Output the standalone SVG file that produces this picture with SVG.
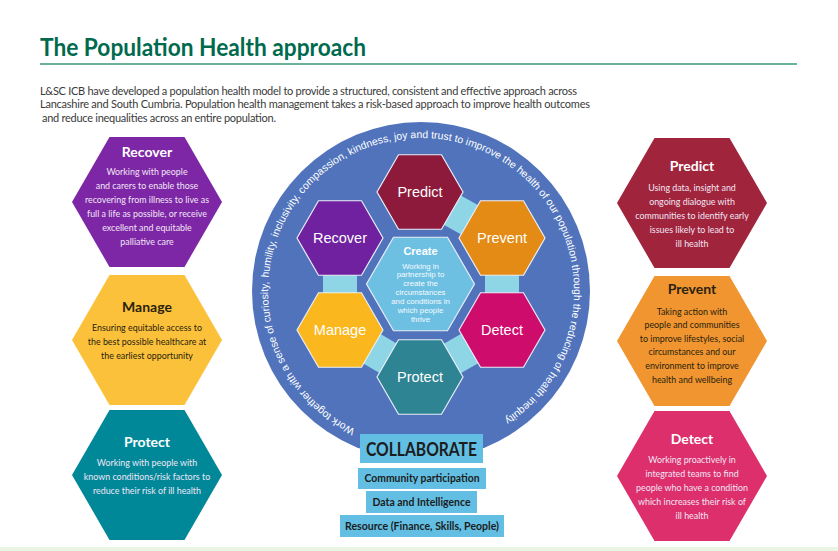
<svg xmlns="http://www.w3.org/2000/svg" width="838" height="551" viewBox="0 0 838 551">
<style>
.title{font-family:Lato,"Open Sans","Liberation Sans",sans-serif;font-weight:bold;font-size:24px;fill:#006a4e}
.para{font-family:Lato,"Open Sans","Liberation Sans",sans-serif;font-size:11px;fill:#3a3a3a}
.stitle{font-family:Lato,"Open Sans","Liberation Sans",sans-serif;font-weight:bold;font-size:14px;text-anchor:middle}
.sbody{font-family:Lato,"Open Sans","Liberation Sans",sans-serif;font-size:8.9px;text-anchor:middle}
.light{fill:#ffffff}
.lightb{fill:#f1e6f5}
.dark{fill:#2a2210}
.hexlbl{font-family:"Liberation Sans",Arial,sans-serif;font-size:14.5px;fill:#ffffff;text-anchor:middle}
.ctitle{font-family:"Liberation Sans",Arial,sans-serif;font-weight:bold;font-size:11px;fill:#ffffff;text-anchor:middle}
.cbody{font-family:"Liberation Sans",Arial,sans-serif;font-size:7.8px;fill:#f4fbff;text-anchor:middle}
.ring{font-family:"Liberation Sans",Arial,sans-serif;font-size:10.45px;fill:#ffffff}
.box{fill:#62bfe3}
.btext{font-family:Lato,"Open Sans","Liberation Sans",sans-serif;font-weight:bold;font-size:10.5px;fill:#1c1c1c;text-anchor:middle}
.band{stroke:#8ed5e5;stroke-width:34;fill:none}
.hexs{stroke:#e8eef8;stroke-width:1.2}
</style>
<defs>
<polygon id="hexS" points="-43,0 -21.5,-37.24 21.5,-37.24 43,0 21.5,37.24 -21.5,37.24"/>
<polygon id="hexL" points="-75,0 -37.5,-64.95 37.5,-64.95 75,0 37.5,64.95 -37.5,64.95"/>
<polygon id="hexC" points="-54,0 -27,-46.77 27,-46.77 54,0 27,46.77 -27,46.77"/>
<path id="ringPath" d="M355.1,429.1 A153,153 0 1 1 501.4,421.2"/>
</defs>

<rect x="0" y="0" width="838" height="551" fill="#ffffff"/>
<rect x="0" y="547" width="838" height="4" fill="#e8f6e3"/>

<g id="header">
<text class="title" x="40" y="56" textLength="326" lengthAdjust="spacingAndGlyphs">The Population Health approach</text>
<line x1="40" y1="64" x2="797" y2="64" stroke="#3d9a78" stroke-width="1.5"/>
<text class="para" x="40" y="95" textLength="537">L&amp;SC ICB have developed a population health model to provide a structured, consistent and effective approach across</text>
<text class="para" x="40" y="108" textLength="550">Lancashire and South Cumbria. Population health management takes a risk-based approach to improve health outcomes</text>
<text class="para" x="42" y="122" textLength="234">and reduce inequalities across an entire population.</text>
</g>

<g id="side-recover">
<use href="#hexL" x="147" y="202" fill="#7d27a6"/>
<text class="stitle light" x="147" y="157">Recover</text>
<text class="sbody lightb" x="147" y="175">Working with people</text>
<text class="sbody lightb" x="147" y="189">and carers to enable those</text>
<text class="sbody lightb" x="147" y="203">recovering from illness to live as</text>
<text class="sbody lightb" x="147" y="217">full a life as possible, or receive</text>
<text class="sbody lightb" x="147" y="231">excellent and equitable</text>
<text class="sbody lightb" x="147" y="245">palliative care</text>
</g>

<g id="side-manage">
<use href="#hexL" x="147" y="340" fill="#fcc13a"/>
<text class="stitle dark" x="147" y="312">Manage</text>
<text class="sbody dark" x="147" y="331">Ensuring equitable access to</text>
<text class="sbody dark" x="147" y="345">the best possible healthcare at</text>
<text class="sbody dark" x="147" y="359">the earliest opportunity</text>
</g>

<g id="side-protect">
<use href="#hexL" x="147" y="475" fill="#008899"/>
<text class="stitle light" x="147" y="447">Protect</text>
<text class="sbody lightb" x="147" y="466">Working with people with</text>
<text class="sbody lightb" x="147" y="480">known conditions/risk factors to</text>
<text class="sbody lightb" x="147" y="494">reduce their risk of ill health</text>
</g>

<g id="side-predict">
<use href="#hexL" x="692" y="203" fill="#a0243c"/>
<text class="stitle light" x="692" y="171">Predict</text>
<text class="sbody lightb" x="692" y="191">Using data, insight and</text>
<text class="sbody lightb" x="692" y="205">ongoing dialogue with</text>
<text class="sbody lightb" x="692" y="219">communities to identify early</text>
<text class="sbody lightb" x="692" y="233">issues likely to lead to</text>
<text class="sbody lightb" x="692" y="247">ill health</text>
</g>

<g id="side-prevent">
<use href="#hexL" x="692" y="341" fill="#f0952f"/>
<text class="stitle dark" x="692" y="294">Prevent</text>
<text class="sbody dark" x="692" y="315">Taking action with</text>
<text class="sbody dark" x="692" y="328">people and communities</text>
<text class="sbody dark" x="692" y="342">to improve lifestyles, social</text>
<text class="sbody dark" x="692" y="355">circumstances and our</text>
<text class="sbody dark" x="692" y="369">environment to improve</text>
<text class="sbody dark" x="692" y="383">health and wellbeing</text>
</g>

<g id="side-detect">
<use href="#hexL" x="692" y="476" fill="#dc2f6c"/>
<text class="stitle light" x="692" y="444">Detect</text>
<text class="sbody lightb" x="692" y="463">Working proactively in</text>
<text class="sbody lightb" x="692" y="477">integrated teams to find</text>
<text class="sbody lightb" x="692" y="491">people who have a condition</text>
<text class="sbody lightb" x="692" y="505">which increases their risk of</text>
<text class="sbody lightb" x="692" y="519">ill health</text>
</g>

<g id="circle">
<circle cx="421" cy="291" r="169" fill="#5073bb"/>
<text class="ring"><textPath href="#ringPath" startOffset="0">Work together with</textPath></text>
<text class="ring"><textPath href="#ringPath" startOffset="90">a sense of</textPath></text>
<text class="ring"><textPath href="#ringPath" startOffset="141.1">curiosity,</textPath></text>
<text class="ring"><textPath href="#ringPath" startOffset="185.3">humility,</textPath></text>
<text class="ring"><textPath href="#ringPath" startOffset="226.5">inclusivity,</textPath></text>
<text class="ring"><textPath href="#ringPath" startOffset="277">compassion,</textPath></text>
<text class="ring"><textPath href="#ringPath" startOffset="338.6">kindness,</textPath></text>
<text class="ring"><textPath href="#ringPath" startOffset="385.6">joy and trust</textPath></text>
<text class="ring"><textPath href="#ringPath" startOffset="445.4">to improve</textPath></text>
<text class="ring"><textPath href="#ringPath" startOffset="497.1">the health of</textPath></text>
<text class="ring"><textPath href="#ringPath" startOffset="557.5">our population</textPath></text>
<text class="ring"><textPath href="#ringPath" startOffset="626.7">through the</textPath></text>
<text class="ring"><textPath href="#ringPath" startOffset="682.4">reducing of</textPath></text>
<text class="ring"><textPath href="#ringPath" startOffset="737">health inequity</textPath></text>
</g>

<g id="connectors">
<line class="band" x1="420" y1="192" x2="502" y2="238"/>
<line class="band" x1="502" y1="238" x2="502" y2="330"/>
<line class="band" x1="502" y1="330" x2="420" y2="377"/>
<line class="band" x1="420" y1="377" x2="340" y2="330"/>
<line class="band" x1="340" y1="330" x2="340" y2="238"/>
</g>

<g id="hex-predict">
<use href="#hexS" x="420" y="192" fill="#8d1a3a" class="hexs"/>
<text class="hexlbl" x="420" y="197">Predict</text>
</g>
<g id="hex-prevent">
<use href="#hexS" x="502" y="238" fill="#e48b15" class="hexs"/>
<text class="hexlbl" x="502" y="243">Prevent</text>
</g>
<g id="hex-detect">
<use href="#hexS" x="502" y="330" fill="#cd0c6b" class="hexs"/>
<text class="hexlbl" x="502" y="335">Detect</text>
</g>
<g id="hex-protect">
<use href="#hexS" x="420" y="377" fill="#2e8493" class="hexs"/>
<text class="hexlbl" x="420" y="382">Protect</text>
</g>
<g id="hex-manage">
<use href="#hexS" x="340" y="330" fill="#fbb81e" class="hexs"/>
<text class="hexlbl" x="340" y="335">Manage</text>
</g>
<g id="hex-recover">
<use href="#hexS" x="340" y="238" fill="#6f21a0" class="hexs"/>
<text class="hexlbl" x="340" y="243">Recover</text>
</g>
<g id="hex-create">
<use href="#hexC" x="420.5" y="284" fill="#6ec0e3" class="hexs"/>
<text class="ctitle" x="420.5" y="255">Create</text>
<text class="cbody" x="420.5" y="268.5">Working in</text>
<text class="cbody" x="420.5" y="277.4">partnership  to</text>
<text class="cbody" x="420.5" y="286.3">create the</text>
<text class="cbody" x="420.5" y="295.2">circumstances</text>
<text class="cbody" x="420.5" y="304.1">and conditions in</text>
<text class="cbody" x="420.5" y="313">which people</text>
<text class="cbody" x="420.5" y="321.9">thrive</text>
</g>

<g id="collaborate">
<rect class="box" x="360" y="434" width="123" height="29"/>
<text x="421.5" y="456" text-anchor="middle" font-family="Lato,'Open Sans','Liberation Sans',sans-serif" font-weight="bold" font-size="19" fill="#1c1c1c" textLength="111" lengthAdjust="spacingAndGlyphs">COLLABORATE</text>
</g>
<g id="box-community">
<rect class="box" x="358" y="468" width="128" height="21"/>
<text class="btext" x="422" y="482" textLength="115" lengthAdjust="spacingAndGlyphs">Community participation</text>
</g>
<g id="box-data">
<rect class="box" x="366" y="491" width="111" height="22"/>
<text class="btext" x="421.5" y="506" textLength="98" lengthAdjust="spacingAndGlyphs">Data and Intelligence</text>
</g>
<g id="box-resource">
<rect class="box" x="340" y="515" width="164" height="22"/>
<text class="btext" x="422" y="530" textLength="154" lengthAdjust="spacingAndGlyphs">Resource (Finance, Skills, People)</text>
</g>
</svg>
